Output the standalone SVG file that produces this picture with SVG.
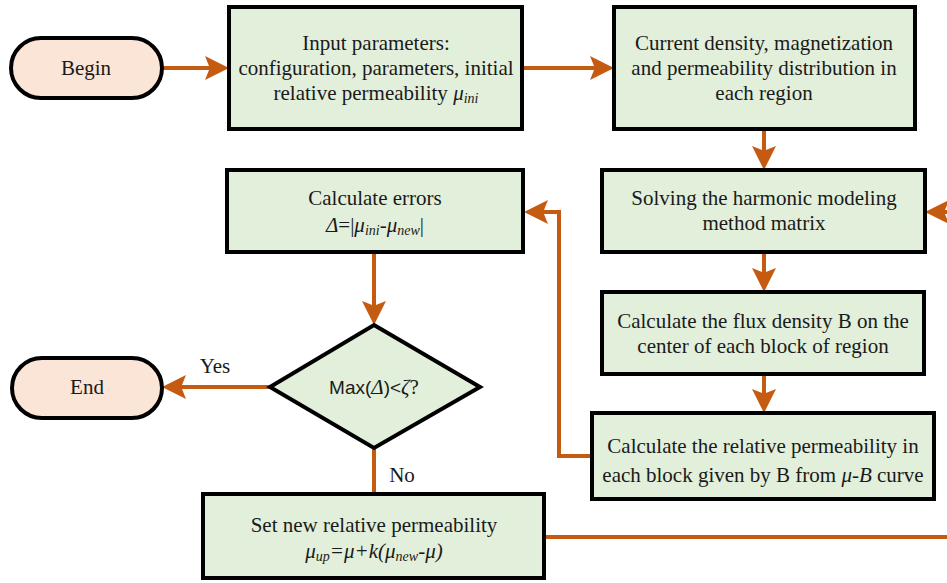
<svg xmlns="http://www.w3.org/2000/svg" width="947" height="583" viewBox="0 0 947 583">
<style>
.box{fill:#E2EFDA;stroke:#000;stroke-width:4}
.term{fill:#FBE5D6;stroke:#000;stroke-width:4}
.t{font-family:"Liberation Serif","Times New Roman",serif;font-size:21px;fill:#1a1a1a;text-anchor:middle}
.it{font-style:italic}
.sub{font-size:14px;font-style:italic}
.sans{font-family:"Liberation Sans",Arial,sans-serif;font-size:19px}
.c{fill:none;stroke:#C55A11;stroke-width:4}
</style>
<defs>
<marker id="ah" markerWidth="6" markerHeight="6" refX="5" refY="3" orient="auto" markerUnits="strokeWidth">
<path d="M0,0 L6,3 L0,6 L1.2,3 Z" fill="#C55A11"/>
</marker>
</defs>
<rect width="947" height="583" fill="#fff"/>
<g id="connectors">
<line class="c" x1="161" y1="68" x2="225" y2="68" marker-end="url(#ah)"/>
<line class="c" x1="522" y1="68" x2="610" y2="68" marker-end="url(#ah)"/>
<line class="c" x1="764" y1="129" x2="764" y2="166" marker-end="url(#ah)"/>
<line class="c" x1="764" y1="252" x2="764" y2="288" marker-end="url(#ah)"/>
<line class="c" x1="764" y1="374" x2="764" y2="409" marker-end="url(#ah)"/>
<polyline class="c" points="592,456 559,456 559,212 528,212" marker-end="url(#ah)"/>
<line class="c" x1="374" y1="252" x2="374" y2="321" marker-end="url(#ah)"/>
<line class="c" x1="270" y1="387" x2="166" y2="387" marker-end="url(#ah)"/>
<line class="c" x1="374" y1="448" x2="374" y2="494"/>
<line class="c" x1="544" y1="537" x2="947" y2="537"/>
<line class="c" x1="960" y1="212" x2="929" y2="212" marker-end="url(#ah)"/>
<text class="t" x="215" y="373">Yes</text>
<text class="t" x="402" y="482">No</text>
</g>
<g id="begin">
<rect class="term" x="11" y="38" width="151" height="60" rx="30"/>
<text class="t" x="86" y="75">Begin</text>
</g>
<g id="input">
<rect class="box" x="229" y="7" width="293" height="122"/>
<text class="t" x="376" y="50">Input parameters:</text>
<text class="t" x="376" y="75">configuration, parameters, initial</text>
<text class="t" x="376" y="100">relative permeability <tspan class="it">μ</tspan><tspan class="sub" dy="3">ini</tspan></text>
</g>
<g id="current">
<rect class="box" x="614" y="7" width="301" height="122"/>
<text class="t" x="764" y="50">Current density, magnetization</text>
<text class="t" x="764" y="75">and permeability distribution in</text>
<text class="t" x="764" y="100">each region</text>
</g>
<g id="solving">
<rect class="box" x="602" y="170" width="323" height="82"/>
<text class="t" x="764" y="205">Solving the harmonic modeling</text>
<text class="t" x="764" y="230">method matrix</text>
</g>
<g id="flux">
<rect class="box" x="602" y="292" width="322" height="82"/>
<text class="t" x="763" y="328">Calculate the flux density B on the</text>
<text class="t" x="763" y="353">center of each block of region</text>
</g>
<g id="relperm">
<rect class="box" x="592" y="413" width="342" height="86"/>
<text class="t" x="763" y="453">Calculate the relative permeability in</text>
<text class="t" x="763" y="482">each block given by B from <tspan class="it">μ-B</tspan> curve</text>
</g>
<g id="errors">
<rect class="box" x="227" y="170" width="296" height="82"/>
<text class="t" x="375" y="205">Calculate errors</text>
<text class="t" x="375" y="232"><tspan class="it">Δ</tspan>=|<tspan class="it">μ</tspan><tspan class="sub" dy="3">ini</tspan><tspan dy="-3">-</tspan><tspan class="it">μ</tspan><tspan class="sub" dy="3">new</tspan><tspan dy="-3">|</tspan></text>
</g>
<g id="decision">
<polygon class="box" points="374,325 480,387 374,448 270,387"/>
<text class="t" x="374" y="394"><tspan class="sans">Max(</tspan><tspan class="it">Δ</tspan><tspan class="sans">)&lt;</tspan><tspan class="it">ζ</tspan>?</text>
</g>
<g id="end">
<rect class="term" x="12" y="358" width="150" height="60" rx="30"/>
<text class="t" x="87" y="394">End</text>
</g>
<g id="setnew">
<rect class="box" x="203" y="494" width="341" height="84"/>
<text class="t" x="374" y="532">Set new relative permeability</text>
<text class="t it" x="374" y="558">μ<tspan class="sub" dy="3">up</tspan><tspan dy="-3">=μ+k(μ</tspan><tspan class="sub" dy="3">new</tspan><tspan dy="-3">-μ)</tspan></text>
</g>
</svg>
